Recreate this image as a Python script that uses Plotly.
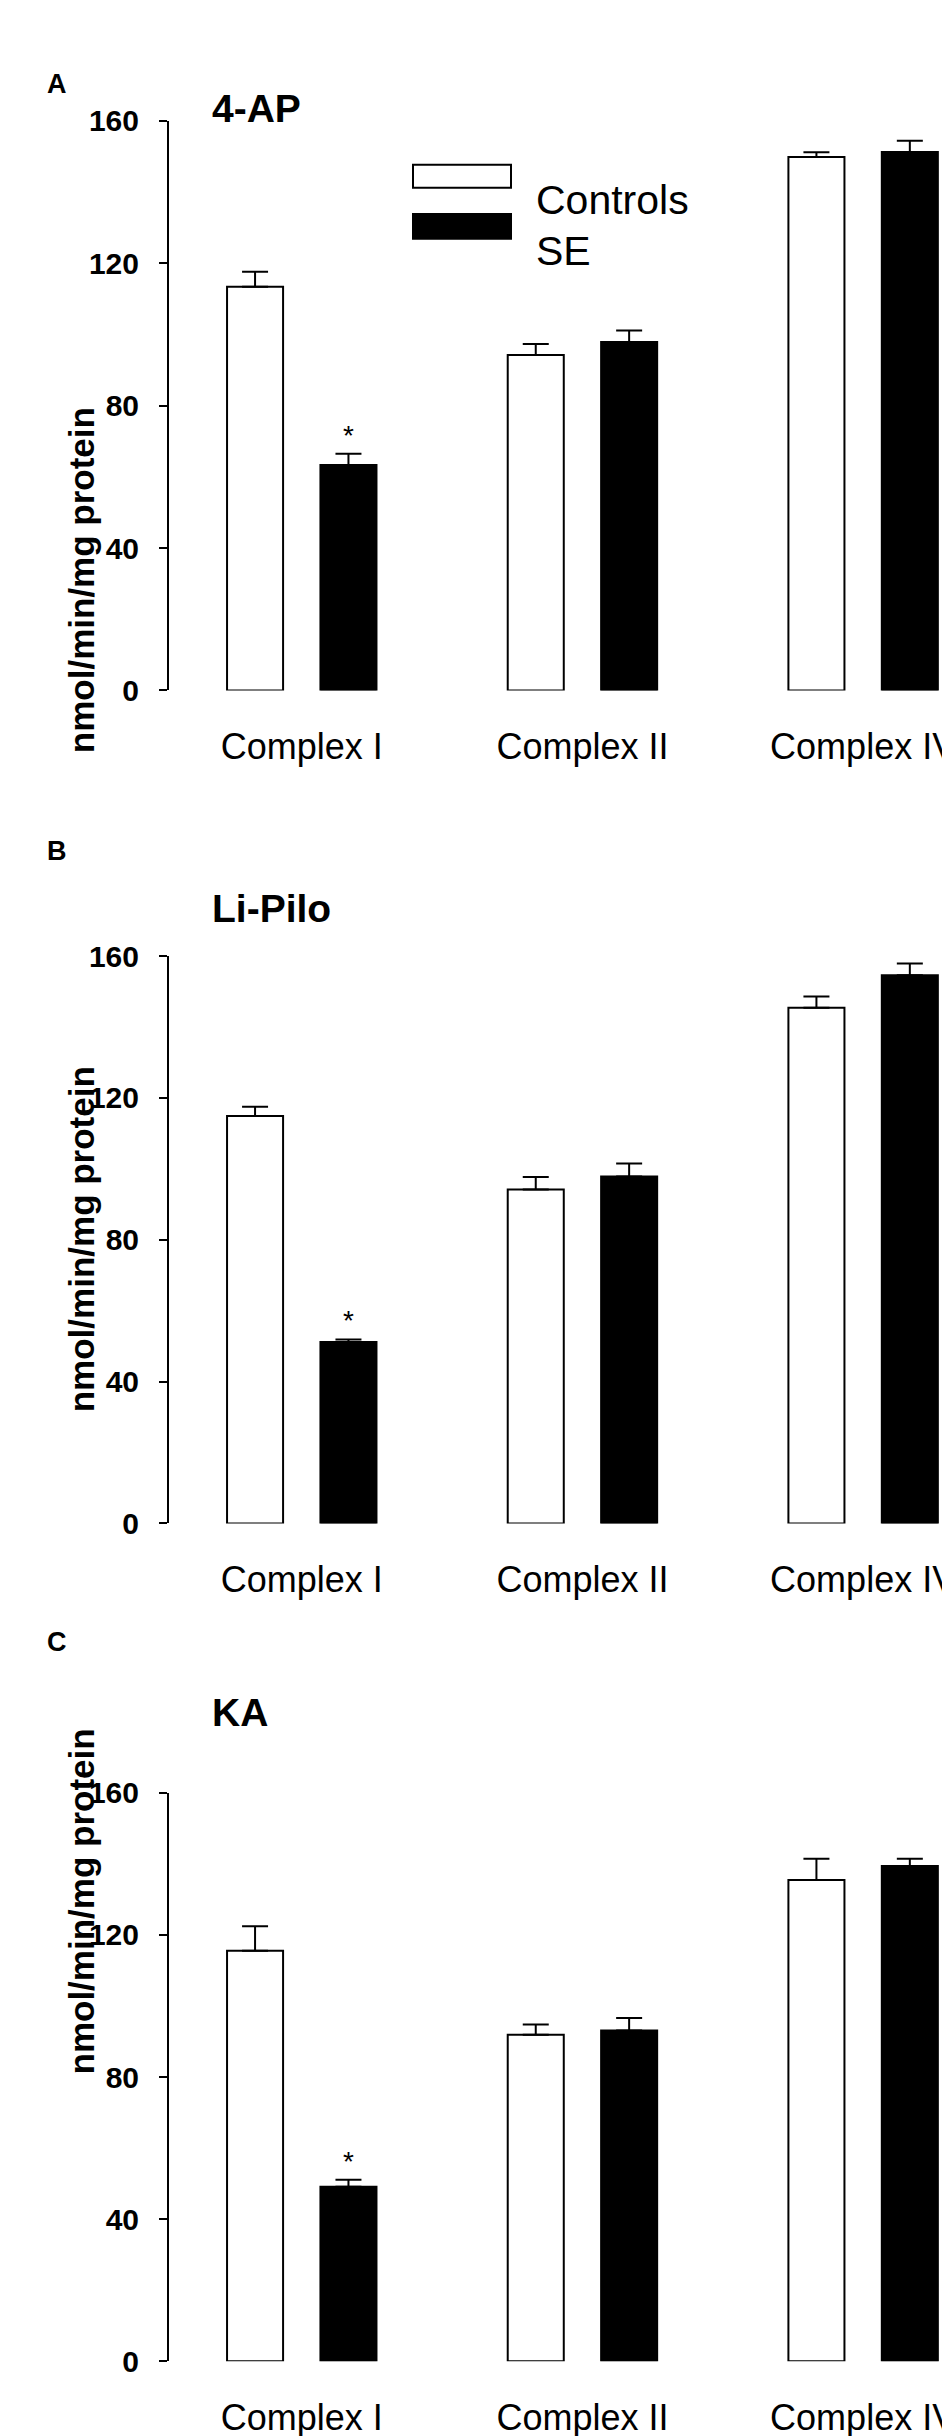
import plotly.graph_objects as go
from plotly.subplots import make_subplots

# categories and series
complexes = ["Complex I", "Complex II", "Complex IV"]
groups = ["Controls", "SE"]
panel_letters = ["A", "B", "C"]
models = ["4-AP", "Li-Pilo", "KA"]
y_ticks = [0, 40, 80, 120, 160]

# 4-AP
ap_controls = [113.4, 94.2, 149.9]
ap_controls_err = [4.2, 3.1, 1.3]
ap_se = [63.3, 97.9, 151.3]
ap_se_err = [3.2, 3.2, 3.1]

# Li-Pilo
pilo_controls = [114.9, 94.2, 145.4]
pilo_controls_err = [2.6, 3.5, 3.2]
pilo_se = [51.2, 97.8, 154.6]
pilo_se_err = [0.7, 3.7, 3.3]

# KA
ka_controls = [115.5, 91.9, 135.4]
ka_controls_err = [6.9, 2.9, 6.0]
ka_se = [49.1, 93.1, 139.4]
ka_se_err = [2.0, 3.5, 2.0]

# * = SE differs from controls
significant = ["Complex I"]

panels = [
    (ap_controls, ap_controls_err, ap_se, ap_se_err),
    (pilo_controls, pilo_controls_err, pilo_se, pilo_se_err),
    (ka_controls, ka_controls_err, ka_se, ka_se_err),
]

W, H = 950, 2436
FONT = "Liberation Sans, Arial, sans-serif"

# pixel layout of each panel: (top of axis, bottom of axis, letter y, title y)
panel_px = [
    (97.3, 674.8, 42.5, 61),
    (944.2, 1519.7, 837.5, 896),
    (1792.7, 2369.4, 1657.5, 1735),
]


def py(v):
    return 1 - v / H


def px(v):
    return v / W


fig = make_subplots(rows=3, cols=1)

fill = {"Controls": "white", "SE": "black"}

for i, (ctrl, ctrl_err, se, se_err) in enumerate(panels):
    row = i + 1
    for name, vals, errs in [("Controls", ctrl, ctrl_err), ("SE", se, se_err)]:
        fig.add_trace(go.Bar(
            x=complexes, y=vals, name=name, showlegend=False,
            marker=dict(color=fill[name], line=dict(color="black", width=2)),
            error_y=dict(type="data", symmetric=False, array=errs,
                         arrayminus=[0] * len(errs), color="black",
                         thickness=2, width=13),
        ), row=row, col=1)

    top, bottom, letter_y, title_y = panel_px[i]
    xa = "xaxis" if row == 1 else f"xaxis{row}"
    ya = "yaxis" if row == 1 else f"yaxis{row}"
    fig.layout[xa].update(domain=[px(161), 1], range=[-0.473, 2.338],
                          showline=False, showgrid=False, zeroline=False,
                          ticks="", ticklabelstandoff=32,
                          tickfont=dict(family=FONT, size=36, color="black"))
    fig.layout[ya].update(domain=[py(bottom), py(top)], range=[0, 160],
                          tickvals=y_ticks, showgrid=False, zeroline=False,
                          showline=True, linecolor="black", linewidth=2,
                          ticks="outside", ticklen=8, tickwidth=2,
                          tickcolor="black", ticklabelstandoff=14,
                          tickfont=dict(family=FONT, size=30, color="black",
                                        weight="bold"))

    xref = "x" if row == 1 else f"x{row}"
    yref = "y" if row == 1 else f"y{row}"
    fig.add_annotation(x=px(37), y=py(letter_y), xref="paper", yref="paper",
                       text="<b>%s</b>" % panel_letters[i], showarrow=False,
                       font=dict(family=FONT, size=27, color="black"))
    fig.add_annotation(x=px(202), y=py(title_y), xref="paper", yref="paper",
                       xanchor="left", text="<b>%s</b>" % models[i],
                       showarrow=False,
                       font=dict(family=FONT, size=39, color="black"))
    fig.add_annotation(x=px(52), y=(py(top) + py(bottom)) / 2,
                       xref="paper", yref="paper", textangle=-90,
                       text="<b>nmol/min/mg protein</b>", showarrow=False,
                       font=dict(family=FONT, size=35, color="black"))
    for c in significant:
        k = complexes.index(c)
        fig.add_annotation(x=c, y=se[k] + se_err[k] + 5.2, xref=xref, yref=yref,
                           xshift=46.7, yanchor="middle", text="*",
                           showarrow=False,
                           font=dict(family=FONT, size=28, color="black"))

# legend drawn as boxes in panel A
legend_px = [(141.7, 165, 152.5), (191.7, 216.7, 204)]
for name, (y0, y1, ty) in zip(groups, legend_px):
    fig.add_shape(type="rect", xref="paper", yref="paper",
                  x0=px(405), x1=px(503), y0=py(y1), y1=py(y0),
                  fillcolor=fill[name], line=dict(color="black", width=2))
    fig.add_annotation(x=px(526), y=py(ty), xref="paper", yref="paper",
                       xanchor="left", text=name, showarrow=False,
                       font=dict(family=FONT, size=41, color="black"))

fig.update_layout(
    width=W, height=H,
    margin=dict(l=0, r=0, t=0, b=0),
    paper_bgcolor="white", plot_bgcolor="white",
    barmode="group", bargap=0.3345, bargroupgap=0.40,
    font=dict(family=FONT, color="black"),
)

fig.write_html("out.html")
